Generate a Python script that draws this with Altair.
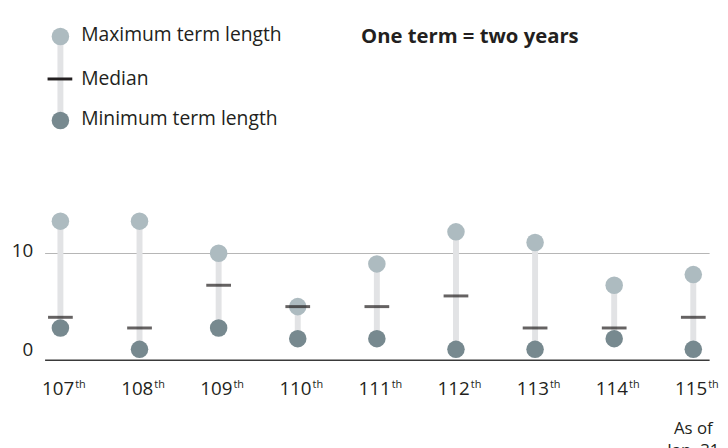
import altair as alt
import pandas as pd

congress = ["107", "108", "109", "110", "111", "112", "113", "114", "115"]
max_terms = [13, 13, 10, 5, 9, 12, 11, 7, 8]
median_terms = [4, 3, 7, 5, 5, 6, 3, 3, 4]
min_terms = [3, 1, 3, 2, 2, 1, 1, 2, 1]
notes = ["", "", "", "", "", "", "", "", "As of\nJan. 31"]

legend_labels = ["Maximum term length", "Median", "Minimum term length"]
title_text = "One term = two years"

FONT = "Open Sans"
C_MAX = "#adbbc0"
C_MIN = "#77898f"
C_STEM = "#e2e3e5"
C_MED = "#231f20"
C_TEXT = "#231f20"

df = pd.DataFrame({
    "congress": congress,
    "max": max_terms,
    "median": median_terms,
    "min": min_terms,
    "suffix": ["th"] * len(congress),
    "note": notes,
})

xenc = alt.X("congress:N", sort=congress,
             scale=alt.Scale(type="point", padding=0.2), axis=None)
yscale = alt.Scale(domain=[0, 14])

base = alt.Chart(df).encode(x=xenc)

stems = base.mark_rule(color=C_STEM, strokeWidth=6).encode(
    y=alt.Y("min:Q", scale=yscale, axis=alt.Axis(
        values=[0, 10], title=None, domain=False, ticks=False,
        grid=True,
        gridColor={"condition": {"test": "datum.value === 0", "value": "#3a3a3a"}, "value": "#b5b5b5"},
        gridWidth={"condition": {"test": "datum.value === 0", "value": 1.5}, "value": 1},
        labelFont=FONT, labelFontSize=19, labelColor=C_TEXT, labelPadding=12,
        labelBaseline="middle",
        labelOffset={"condition": {"test": "datum.value === 0", "value": -11}, "value": -3},
    )),
    y2="max:Q",
)

max_dots = base.mark_circle(size=314, opacity=1, color=C_MAX).encode(
    y=alt.Y("max:Q", scale=yscale))
min_dots = base.mark_circle(size=314, opacity=1, color=C_MIN).encode(
    y=alt.Y("min:Q", scale=yscale))
medians = base.mark_tick(color=C_MED, size=25, thickness=3, orient="horizontal").encode(
    y=alt.Y("median:Q", scale=yscale))

num_labels = base.mark_text(font=FONT, fontSize=19, color=C_TEXT, align="right",
                            baseline="alphabetic", dx=14).encode(
    y=alt.value(186.5), text="congress:N")
suf_labels = base.mark_text(font=FONT, fontSize=11, color=C_TEXT, align="left",
                            baseline="alphabetic", dx=15).encode(
    y=alt.value(179), text="suffix:N")
note_labels = base.mark_text(font=FONT, fontSize=17, color=C_TEXT, align="center",
                             baseline="alphabetic", lineBreak="\n", lineHeight=22).encode(
    y=alt.value(226), text="note:N")

# legend
one = pd.DataFrame({"a": [0]})
leg = alt.Chart(one)
leg_stem = leg.mark_rule(color=C_STEM, strokeWidth=6).encode(
    x=alt.value(16), y=alt.value(-176), y2=alt.value(-91))
leg_max = leg.mark_circle(size=314, opacity=1, color=C_MAX).encode(
    x=alt.value(16), y=alt.value(-176))
leg_min = leg.mark_circle(size=314, opacity=1, color=C_MIN).encode(
    x=alt.value(16), y=alt.value(-91))
leg_med = leg.mark_rule(color=C_MED, strokeWidth=3).encode(
    x=alt.value(3), x2=alt.value(28), y=alt.value(-133))
leg_df = pd.DataFrame({"label": legend_labels, "py": [-177, -133, -92]})
leg_text = alt.Chart(leg_df).mark_text(font=FONT, fontSize=19.5, color=C_TEXT,
                                       align="left", baseline="middle").encode(
    x=alt.value(37), y=alt.Y("py:Q", scale=None), text="label:N")
title_df = pd.DataFrame({"t": [title_text]})
title = alt.Chart(title_df).mark_text(font=FONT, fontSize=20.5, fontWeight="bold",
                                      color=C_TEXT, align="left", baseline="middle").encode(
    x=alt.value(320), y=alt.value(-175), text="t:N")

chart = alt.layer(
    stems, max_dots, min_dots, medians, num_labels, suf_labels, note_labels,
    leg_stem, leg_max, leg_min, leg_med, leg_text, title,
).properties(
    width=672, height=151.2,
    autosize=alt.AutoSizeParams(type="none"),
    padding={"left": 37, "right": 11, "top": 202.3, "bottom": 86.5},
).configure_view(stroke=None)

chart.save("out.html", embed_options={"renderer": "svg", "actions": False})
